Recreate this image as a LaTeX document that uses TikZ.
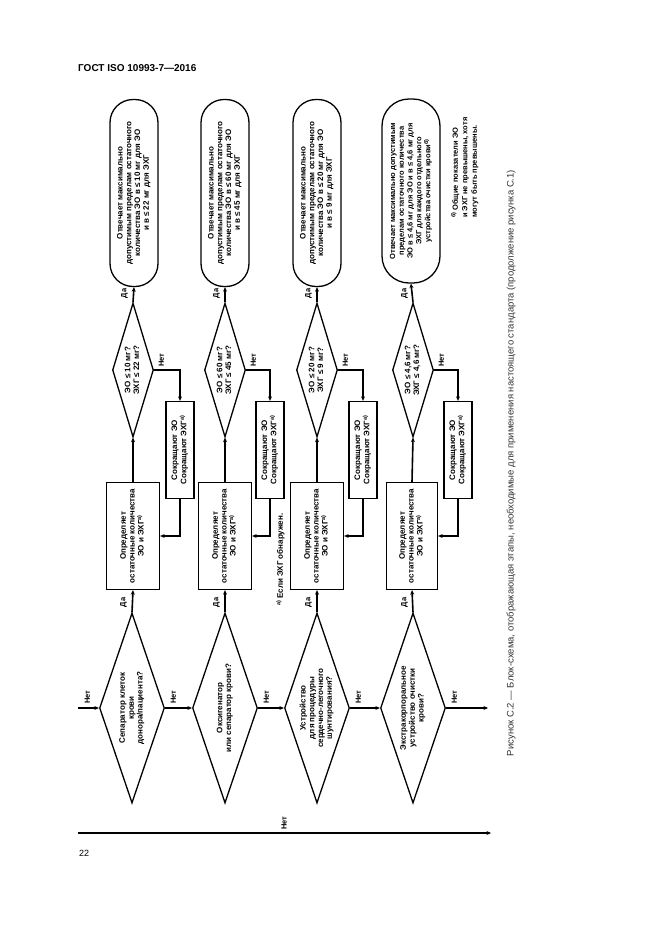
\documentclass[tikz,border=0pt]{standalone}
\usepackage{graphicx}
\usepackage{fontspec}
\setmainfont{Liberation Sans}
\usetikzlibrary{shapes.geometric,arrows.meta,calc}

\newcommand{\vtext}[1]{\rotatebox{90}{\begin{tabular}{@{}c@{}}#1\end{tabular}}}
\newcommand{\vleft}[1]{\rotatebox{90}{\begin{tabular}{@{}l@{}}#1\end{tabular}}}
\newcommand{\fnmark}[1]{\raisebox{0.6ex}{\fontsize{5.5}{6}\selectfont #1}}

\begin{document}
\begin{tikzpicture}[x=1pt,y=-1pt,
		every node/.style={font=\bfseries\fontsize{8}{8.8}\selectfont, inner sep=0pt},
		term/.style={draw, line width=1.3pt, rounded corners=23pt, minimum width=48pt, minimum height=187pt},
		ask/.style={draw, diamond, line width=1.3pt, aspect=0.32},
		askup/.style={ask, minimum width=41pt, minimum height=134pt},
		asklow/.style={ask, minimum width=65pt, minimum height=190pt},
		workbox/.style={draw, line width=1.3pt, minimum width=53pt, minimum height=107pt},
		cutbox/.style={draw, line width=1.3pt, minimum width=28pt, minimum height=97pt},
		flow/.style={line width=1.6pt, -{Stealth[length=4.5pt,width=4pt]}},
		lbl/.style={font=\bfseries\fontsize{7.5}{8}\selectfont}]

		\useasboundingbox (0,0) rectangle (661,935);

		% Page header, page number and caption
		\node[anchor=west, font=\bfseries\fontsize{10}{12}\selectfont] (title) at (78,68) {ГОСТ ISO 10993-7—2016};
		\node[anchor=west, font=\fontsize{9}{11}\selectfont] (pageno) at (79,853) {22};
		\node[font=\fontsize{9.5}{11}\selectfont, black!80] (caption) at (511,463) {\rotatebox{90}{Рисунок С.2 — Блок-схема, отображающая этапы, необходимые для применения настоящего стандарта (продолжение рисунка С.1)}};

		% Terminals
		\node[term] (t1) at (134,193) {\vtext{Отвечает максимально\\допустимым пределам остаточного\\количества ЭО в ≤ 10 мг для ЭО\\и в ≤ 22 мг для ЭХГ}};
		\node[term] (t2) at (225,193) {\vtext{Отвечает максимально\\допустимым пределам остаточного\\количества ЭО в ≤ 60 мг для ЭО\\и в ≤ 45 мг для ЭХГ}};
		\node[term] (t3) at (317,193) {\vtext{Отвечает максимально\\допустимым пределам остаточного\\количества ЭО в ≤ 20 мг для ЭО\\и в ≤ 9 мг для ЭХГ}};
		\node[term, minimum width=58pt, minimum height=184pt, rounded corners=27pt, font=\bfseries\fontsize{7.5}{8.8}\selectfont] (t4) at (411,191) {\vtext{Отвечает максимально допустимым\\пределам остаточного количества\\ЭО в ≤ 4,6 мг для ЭО и в ≤ 4,6 мг для\\ЭХГ для каждого отдельного\\устройства очистки крови\fnmark{б)}}};

		% Limit checks
		\node[askup] (up1) at (133,370) {\vtext{ЭО ≤ 10 мг?\\ЭХГ ≤ 22 мг?}};
		\node[askup] (up2) at (225,370) {\vtext{ЭО ≤ 60 мг?\\ЭХГ ≤ 45 мг?}};
		\node[askup] (up3) at (317,370) {\vtext{ЭО ≤ 20 мг?\\ЭХГ ≤ 9 мг?}};
		\node[askup] (up4) at (413,370) {\vtext{ЭО ≤ 4,6 мг?\\ЭХГ ≤ 4,6 мг?}};

		% Reduce boxes
		\node[cutbox] (cut1) at (180,450) {\vtext{Сокращают ЭО\\Сокращают ЭХГ\fnmark{а)}}};
		\node[cutbox] (cut2) at (270,450) {\vtext{Сокращают ЭО\\Сокращают ЭХГ\fnmark{а)}}};
		\node[cutbox] (cut3) at (363,450) {\vtext{Сокращают ЭО\\Сокращают ЭХГ\fnmark{а)}}};
		\node[cutbox] (cut4) at (458,450) {\vtext{Сокращают ЭО\\Сокращают ЭХГ\fnmark{а)}}};

		% Measuring boxes
		\node[workbox] (box1) at (133,536) {\vtext{Определяет\\остаточные количества\\ЭО и ЭХГ\fnmark{а)}}};
		\node[workbox] (box2) at (225,536) {\vtext{Определяет\\остаточные количества\\ЭО и ЭХГ\fnmark{а)}}};
		\node[workbox] (box3) at (317,536) {\vtext{Определяет\\остаточные количества\\ЭО и ЭХГ\fnmark{а)}}};
		\node[workbox, minimum width=51pt] (box4) at (412,536) {\vtext{Определяет\\остаточные количества\\ЭО и ЭХГ\fnmark{а)}}};

		% Device type questions
		\node[asklow] (dev1) at (132,708) {\vtext{Сепаратор клеток\\крови\\донора/пациента?}};
		\node[asklow] (dev2) at (225,708) {\vtext{Оксигенатор\\или сепаратор крови?}};
		\node[asklow] (dev3) at (317,708) {\vtext{Устройство\\для процедуры\\сердечно-легочного\\шунтирования?}};
		\node[asklow] (dev4) at (413,708) {\vtext{Экстракорпоральное\\устройство очистки\\крови?}};

		% Footnotes
		\node[anchor=south] (fna) at (281,606) {\vtext{\fnmark{а)} Если ЭХГ обнаружен.}};
		\node[anchor=south west, lbl, font=\bfseries\fontsize{7.5}{9.5}\selectfont] (fnb) at (451,218) {\vleft{\fnmark{б)} Общие показатели ЭО\\и ЭХГ не превышены, хотя\\могут быть превышены.}};

		% Free ends
		\coordinate (in) at (78,708);
		\coordinate (out) at (488,708);
		\coordinate (bl) at (78,833);
		\coordinate (br) at (491,833);

		% Column 1
		\draw[flow] (dev1.north) -- (box1.south);
		\draw[flow] (box1.north) -- (up1.south);
		\draw[flow] (up1.north) -- (t1.south);
		\draw[flow] (up1.east) -| (cut1.north);
		\draw[flow] (cut1.south) |- (box1.east);

		% Column 2
		\draw[flow] (dev2.north) -- (box2.south);
		\draw[flow] (box2.north) -- (up2.south);
		\draw[flow] (up2.north) -- (t2.south);
		\draw[flow] (up2.east) -| (cut2.north);
		\draw[flow] (cut2.south) |- (box2.east);

		% Column 3
		\draw[flow] (dev3.north) -- (box3.south);
		\draw[flow] (box3.north) -- (up3.south);
		\draw[flow] (up3.north) -- (t3.south);
		\draw[flow] (up3.east) -| (cut3.north);
		\draw[flow] (cut3.south) |- (box3.east);

		% Column 4
		\draw[flow] (dev4.north) -- (box4.south);
		\draw[flow] (box4.north) -- (up4.south);
		\draw[flow] (up4.north) -- (t4.south);
		\draw[flow] (up4.east) -| (cut4.north);
		\draw[flow] (cut4.south) |- (box4.east);

		% "No" chain along the device questions
		\draw[flow] (in) -- (dev1.west);
		\draw[flow] (dev1.east) -- (dev2.west);
		\draw[flow] (dev2.east) -- (dev3.west);
		\draw[flow] (dev3.east) -- (dev4.west);
		\draw[flow] (dev4.east) -- (out);
		\draw[flow] (bl) -- (br);

		% Yes labels
		\node[lbl, anchor=east] (y1) at ($(dev1.north)+(-4,-10)$) {\vtext{Да}};
		\node[lbl, anchor=east] (y2) at ($(dev2.north)+(-4,-10)$) {\vtext{Да}};
		\node[lbl, anchor=east] (y3) at ($(dev3.north)+(-4,-10)$) {\vtext{Да}};
		\node[lbl, anchor=east] (y4) at ($(dev4.north)+(-4,-10)$) {\vtext{Да}};
		\node[lbl, anchor=east] (y5) at ($(up1.north)+(-4,-9)$) {\vtext{Да}};
		\node[lbl, anchor=east] (y6) at ($(up2.north)+(-4,-9)$) {\vtext{Да}};
		\node[lbl, anchor=east] (y7) at ($(up3.north)+(-4,-9)$) {\vtext{Да}};
		\node[lbl, anchor=east] (y8) at ($(up4.north)+(-4,-9)$) {\vtext{Да}};

		% No labels
		\node[lbl, anchor=south west] (n1) at ($(up1.east)+(4,-3)$) {\vtext{Нет}};
		\node[lbl, anchor=south west] (n2) at ($(up2.east)+(4,-3)$) {\vtext{Нет}};
		\node[lbl, anchor=south west] (n3) at ($(up3.east)+(4,-3)$) {\vtext{Нет}};
		\node[lbl, anchor=south west] (n4) at ($(up4.east)+(4,-3)$) {\vtext{Нет}};
		\node[lbl, anchor=south west] (n5) at ($(in)+(6,-4)$) {\vtext{Нет}};
		\node[lbl, anchor=south west] (n6) at ($(dev1.east)+(5,-4)$) {\vtext{Нет}};
		\node[lbl, anchor=south west] (n7) at ($(dev2.east)+(5,-4)$) {\vtext{Нет}};
		\node[lbl, anchor=south west] (n8) at ($(dev3.east)+(5,-4)$) {\vtext{Нет}};
		\node[lbl, anchor=south west] (n9) at ($(dev4.east)+(5,-4)$) {\vtext{Нет}};
		\node[lbl, anchor=south] (n10) at (285,830) {\vtext{Нет}};

	\end{tikzpicture}
\end{document}
